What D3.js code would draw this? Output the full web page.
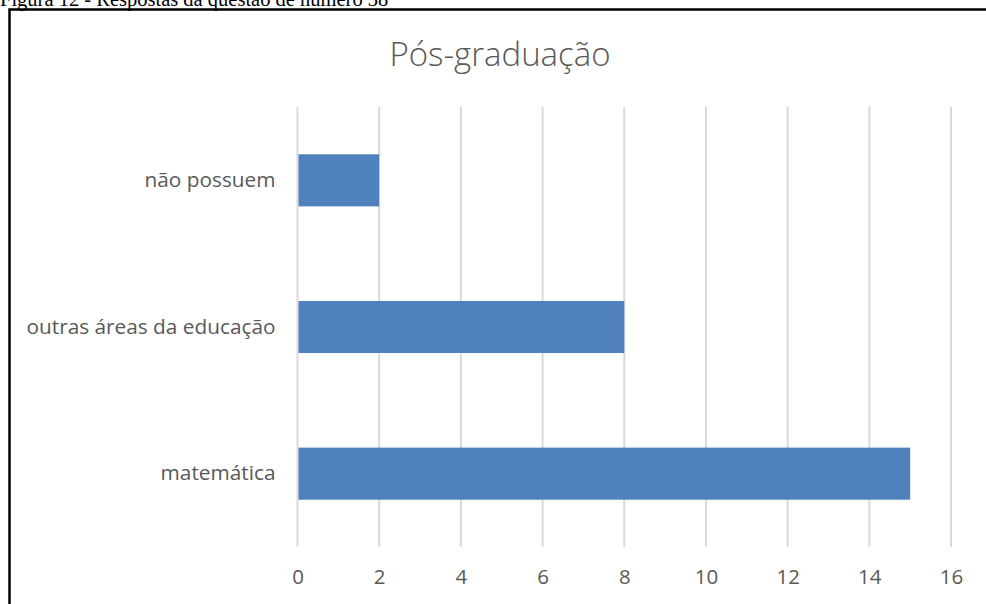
<!DOCTYPE html>
<html>
<head>
<meta charset="utf-8">
<script src="https://cdn.jsdelivr.net/npm/d3@7"></script>
<style>
  body { margin: 0; background: #fff; }
</style>
</head>
<body>
<div id="chart"></div>
<script>
// data
var categories = ["não possuem", "outras áreas da educação", "matemática"];
var values = [2, 8, 15];
var xTicks = [0, 2, 4, 6, 8, 10, 12, 14, 16];
var chartTitle = "Pós-graduação";
var caption = "Figura 12 - Respostas da questão de número 38";

var WIDTH = 986;
var HEIGHT = 604;
var PLOT = {left: 297.5, right: 951, top: 107, bottom: 547};

var svg = d3.select("#chart").append("svg")
    .attr("width", WIDTH)
    .attr("height", HEIGHT);

// caption above the frame (cut off by the page top, as in the source)
svg.append("text")
    .attr("x", 0)
    .attr("y", 6)
    .style("font-family", "'Liberation Serif', 'Times New Roman', serif")
    .style("font-size", "20.5px")
    .style("fill", "#000")
    .text(caption);

// frame: only left and top edges are visible
svg.append("path")
    .attr("d", "M9.5," + HEIGHT + "V9.5H" + WIDTH)
    .attr("fill", "none")
    .attr("stroke", "#000")
    .attr("stroke-width", 2.5);

var xScale = d3.scaleLinear()
    .domain([0, 16])
    .range([PLOT.left, PLOT.right]);

var yScale = d3.scaleBand()
    .domain(categories)
    .range([PLOT.top, PLOT.bottom])
    .paddingInner(0.645)
    .paddingOuter(0.3225);

// vertical gridlines
svg.append("g")
    .selectAll("line")
    .data(xTicks)
    .enter().append("line")
    .attr("x1", function(d) { return xScale(d); })
    .attr("x2", function(d) { return xScale(d); })
    .attr("y1", PLOT.top)
    .attr("y2", PLOT.bottom)
    .style("stroke", "#d9d9d9")
    .style("stroke-width", 2);

// bars
svg.append("g")
    .selectAll("rect")
    .data(values)
    .enter().append("rect")
    .attr("x", xScale(0) + 1)
    .attr("y", function(d, i) { return yScale(categories[i]); })
    .attr("width", function(d) { return xScale(d) - xScale(0) - 1; })
    .attr("height", yScale.bandwidth())
    .style("fill", "#4f81bd");

// x axis labels
var xAxis = d3.axisBottom(xScale)
    .tickValues(xTicks)
    .tickSize(0)
    .tickPadding(0);

var gx = svg.append("g")
    .attr("transform", "translate(0," + 568 + ")")
    .call(xAxis);
gx.select(".domain").remove();
gx.selectAll("text")
    .attr("dy", "0.35em")
    .attr("y", 9)
    .style("font-family", "'Open Sans', sans-serif")
    .style("font-size", "20.5px")
    .style("fill", "#595959");

// category labels
var yAxis = d3.axisLeft(yScale)
    .tickSize(0)
    .tickPadding(22);

var gy = svg.append("g")
    .attr("transform", "translate(" + PLOT.left + ",0)")
    .call(yAxis);
gy.select(".domain").remove();
gy.selectAll("text")
    .style("font-family", "'Open Sans', sans-serif")
    .style("font-size", "20.8px")
    .style("fill", "#595959");

// title
svg.append("text")
    .attr("x", 500)
    .attr("y", 66)
    .attr("text-anchor", "middle")
    .style("font-family", "'Open Sans', sans-serif")
    .style("font-weight", 300)
    .style("font-size", "33px")
    .style("fill", "#595959")
    .text(chartTitle);
</script>
</body>
</html>
